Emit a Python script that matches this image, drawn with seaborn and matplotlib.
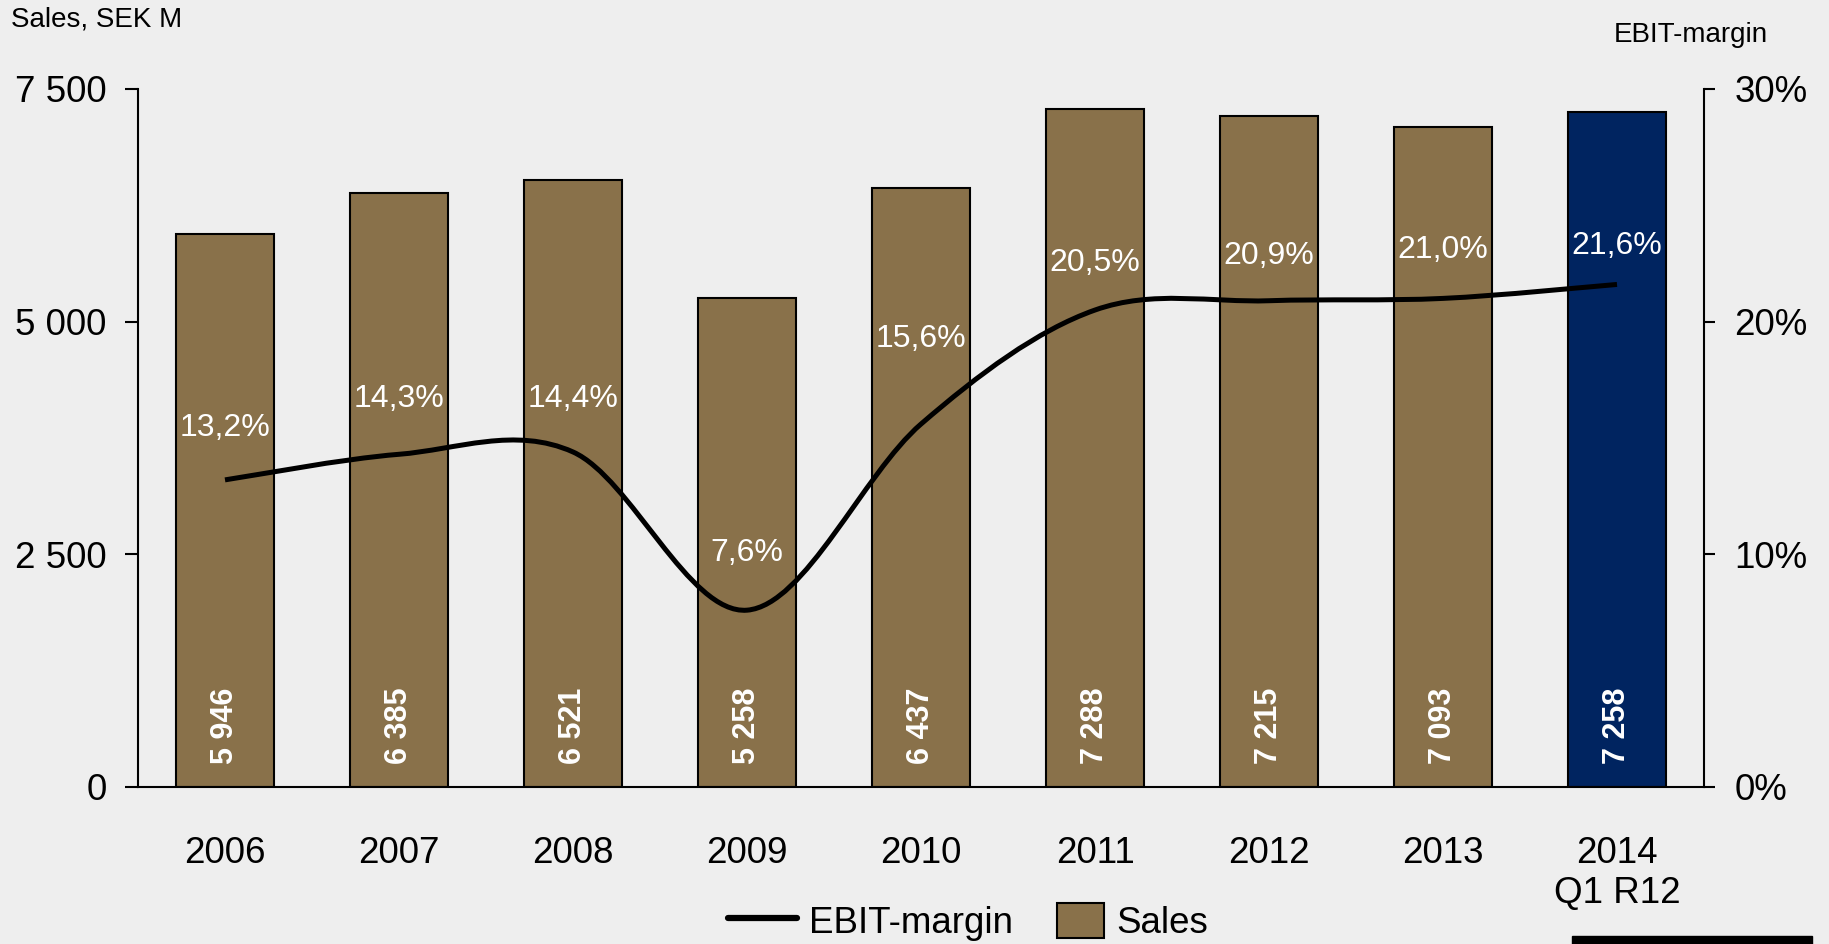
import numpy as np
import pandas as pd
import seaborn as sns
import matplotlib
matplotlib.use("Agg")
import matplotlib.pyplot as plt
from matplotlib.path import Path
from matplotlib.patches import PathPatch, Rectangle, Patch
from matplotlib.lines import Line2D
from matplotlib.legend_handler import HandlerPatch
from matplotlib.ticker import FuncFormatter, FixedLocator

# ---- data -------------------------------------------------------------
periods = ["2006", "2007", "2008", "2009", "2010", "2011", "2012", "2013", "2014\nQ1 R12"]
sales = [5946, 6385, 6521, 5258, 6437, 7288, 7215, 7093, 7258]          # SEK M
ebit_margin = [13.2, 14.3, 14.4, 7.6, 15.6, 20.5, 20.9, 21.0, 21.6]      # %

# ---- style ------------------------------------------------------------
BG = "#EEEEEE"
BROWN = "#89714A"
NAVY = "#002460"
sns.set_theme(style="white")
plt.rcParams["font.family"] = ["Liberation Sans", "DejaVu Sans"]
plt.rcParams.update({
    "axes.facecolor": BG,
    "figure.facecolor": BG,
    "text.color": "black",
    "xtick.color": "black",
    "ytick.color": "black",
    "axes.labelcolor": "black",
})

fig = plt.figure(figsize=(18.29, 9.44), dpi=100)
ax = fig.add_axes([138 / 1829, 1 - 787 / 944, (1704 - 138) / 1829, (787 - 89) / 944])

df = pd.DataFrame({"period": periods, "sales": sales})
bar_colors = [BROWN] * (len(periods) - 1) + [NAVY]
sns.barplot(data=df, x="period", y="sales", hue="period", palette=bar_colors,
            legend=False, width=0.56, edgecolor="black", linewidth=1.5,
            saturation=1, ax=ax)

ax.set_ylim(0, 7500)
ax.set_xlim(-0.5, len(periods) - 0.5)
ax.yaxis.set_major_locator(FixedLocator([0, 2500, 5000, 7500]))
ax.yaxis.set_major_formatter(FuncFormatter(lambda v, p: f"{int(v):,}".replace(",", " ")))
ax.set_xlabel("")
ax.set_ylabel("")
ax.tick_params(axis="y", direction="out", length=9.5, width=1.5, pad=13,
               labelsize=26.5, left=True)
ax.tick_params(axis="x", length=0, pad=35, labelsize=26.5)
for s in ["top", "right"]:
    ax.spines[s].set_visible(False)
for s in ["left", "bottom"]:
    ax.spines[s].set_color("black")
    ax.spines[s].set_linewidth(1.5)
ax.grid(False)

# sales values inside bars
for i, v in enumerate(sales):
    ax.text(i, 0.0874, f"{v:,}".replace(",", " "), rotation=90, ha="center", va="center",
            color="white", fontsize=22, fontweight="bold",
            transform=ax.get_xaxis_transform())

# ---- EBIT-margin on secondary axis -------------------------------------
ax2 = ax.twinx()
ax2.set_ylim(0, 30)
ax2.yaxis.set_major_locator(FixedLocator([0, 10, 20, 30]))
ax2.yaxis.set_major_formatter(FuncFormatter(lambda v, p: f"{int(v)}%"))
ax2.tick_params(axis="y", direction="out", length=8, width=1.5, pad=14,
                labelsize=26.5, right=True)
ax2.grid(False)
for s in ["top", "left", "bottom"]:
    ax2.spines[s].set_visible(False)
ax2.spines["right"].set_color("black")
ax2.spines["right"].set_linewidth(1.5)

# smoothed line through the margin points (Catmull-Rom as cubic Bezier)
pts = np.column_stack([np.arange(len(ebit_margin)), ebit_margin]).astype(float)
verts = [tuple(pts[0])]
codes = [Path.MOVETO]
n = len(pts)
for i in range(n - 1):
    p0 = pts[i - 1] if i > 0 else pts[i]
    p1, p2 = pts[i], pts[i + 1]
    p3 = pts[i + 2] if i + 2 < n else pts[i + 1]
    c1 = p1 + (p2 - p0) / 6
    c2 = p2 - (p3 - p1) / 6
    verts += [tuple(c1), tuple(c2), tuple(p2)]
    codes += [Path.CURVE4] * 3
ax2.add_patch(PathPatch(Path(verts, codes), facecolor="none", edgecolor="black",
                        lw=3.6, capstyle="butt", joinstyle="round"))

label_lift = [37, 40, 38, 41, 61, 34, 32, 35, 28]  # points above each point
for i, (m, dy) in enumerate(zip(ebit_margin, label_lift)):
    ax2.annotate(f"{m:.1f}%".replace(".", ","), (i, m), xytext=(0, dy),
                 textcoords="offset points", ha="center", va="center",
                 color="white", fontsize=23)

# ---- titles, legend ----------------------------------------------------
fig.text(11 / 1829, 1 - 20 / 944, "Sales, SEK M", ha="left", va="center", fontsize=20)
fig.text(1691 / 1829, 1 - 35 / 944, "EBIT-margin", ha="center", va="center", fontsize=20)


def box_patch(legend, orig_handle, xdescent, ydescent, width, height, fontsize):
    w = height * 1.35
    return Rectangle((xdescent + width - w, -ydescent), w, height)


handles = [Line2D([], [], color="black", lw=4.5),
           Patch(facecolor=BROWN, edgecolor="black", linewidth=1.5)]
fig.legend(handles, ["EBIT-margin", "Sales"], loc="center",
           bbox_to_anchor=(0.5293, 1 - 922 / 944), ncol=2, frameon=False,
           fontsize=26.5, handlelength=1.88, handleheight=1.09, handletextpad=0.32,
           columnspacing=0.6, borderpad=0, borderaxespad=0,
           handler_map={Patch: HandlerPatch(patch_func=box_patch)})

fig.patches.append(Rectangle((1572 / 1829, 0), (1812 - 1572) / 1829, 8 / 944,
                             transform=fig.transFigure, color="black"))

fig.savefig("out.png", dpi=100, facecolor=BG)
